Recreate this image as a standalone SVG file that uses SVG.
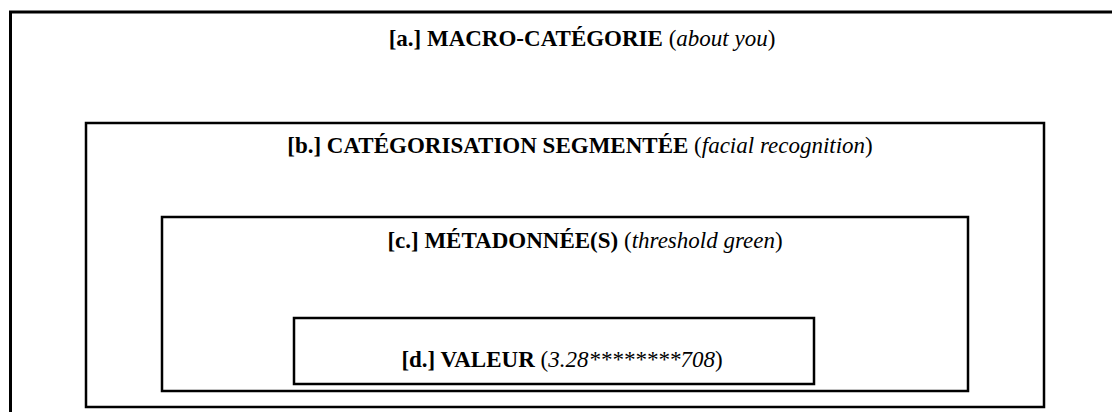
<svg xmlns="http://www.w3.org/2000/svg" width="1112" height="412" viewBox="0 0 1112 412">
  <style>
    .frame { fill: #ffffff; stroke: #000000; stroke-width: 2.5; }
    .outer { stroke-width: 3; }
    .label { font-family: "Liberation Serif", "Times New Roman", serif; font-size: 23px; fill: #000000; text-anchor: middle; }
    .b { font-weight: bold; }
    .i { font-style: italic; }
  </style>
  <rect width="1112" height="412" fill="#ffffff"/>

  <!-- nested levels, outermost first -->
  <g id="level-a">
    <rect class="frame outer" x="10.5" y="12" width="1110" height="410"/>
    <text class="label" x="582" y="46"><tspan class="b">[a.] MACRO-CATÉGORIE</tspan> (<tspan class="i">about you</tspan>)</text>
  </g>

  <g id="level-b">
    <rect class="frame" x="86" y="123" width="958" height="284"/>
    <text class="label" x="580" y="153"><tspan class="b">[b.] CATÉGORISATION SEGMENTÉE</tspan> (<tspan class="i">facial recognition</tspan>)</text>
  </g>

  <g id="level-c">
    <rect class="frame" x="162" y="217" width="806" height="174"/>
    <text class="label" x="585" y="248"><tspan class="b">[c.] MÉTADONNÉE(S)</tspan> (<tspan class="i">threshold green</tspan>)</text>
  </g>

  <g id="level-d">
    <rect class="frame" x="294" y="318" width="520" height="66"/>
    <text class="label" x="562" y="367"><tspan class="b">[d.] VALEUR</tspan> (<tspan class="i">3.28********708</tspan>)</text>
  </g>

  <g id="connectors"/>
</svg>
